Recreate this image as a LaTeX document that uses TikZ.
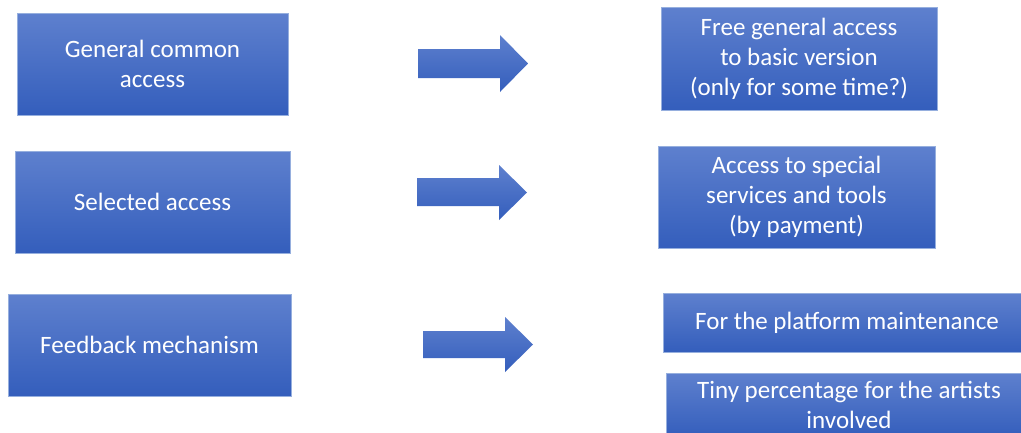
\documentclass[tikz,border=0pt]{standalone}
\usepackage{fontspec}
\setmainfont{Carlito}
\definecolor{btop}{RGB}{94,128,206}
\definecolor{bbot}{RGB}{52,94,188}
\definecolor{bedge}{RGB}{150,175,222}
\begin{document}
\begin{tikzpicture}[x=1pt,y=-1pt,
  box/.style={rectangle, top color=btop, bottom color=bbot, draw=bedge, line width=0.8pt,
    text=white, align=center, inner sep=0pt,
    font=\fontsize{25}{30}\selectfont},
  bigarrow/.style={top color=btop, bottom color=bbot, draw=none}]
\clip (0,0) rectangle (1021,432);
\fill[white] (0,0) rectangle (1021,432);
% left boxes
\node[box, minimum width=271pt, minimum height=102pt] (gca) at (152.5,64) {General common\\access};
\node[box, minimum width=275pt, minimum height=102pt] (sa) at (152.5,202) {Selected access};
\node[box, minimum width=283pt, minimum height=102pt] (fm) at (149.5,345) {Feedback mechanism};
% right boxes
\node[box, minimum width=276pt, minimum height=103pt] (free) at (799,58.5) {Free general access\\to basic version\\(only for some time?)};
\node[box, minimum width=277pt, minimum height=102pt] (spec) at (796.5,197) {Access to special\\services and tools\\(by payment)};
\node[box, minimum width=368pt, minimum height=59pt] (plat) at (847,322.5) {For the platform maintenance};
\node[box, minimum width=366pt, minimum height=64pt] (tiny) at (849,405) {Tiny percentage for the artists\\involved};
% arrows
\shade[bigarrow] (418,49) -- (500,49) -- (500,35) -- (528,63.5) -- (500,92) -- (500,78) -- (418,78) -- cycle;
\shade[bigarrow] (417,178) -- (499,178) -- (499,165) -- (527,192.5) -- (499,220) -- (499,206) -- (417,206) -- cycle;
\shade[bigarrow] (423,331) -- (505,331) -- (505,317) -- (533,344.5) -- (505,372) -- (505,358) -- (423,358) -- cycle;
\end{tikzpicture}
\end{document}
